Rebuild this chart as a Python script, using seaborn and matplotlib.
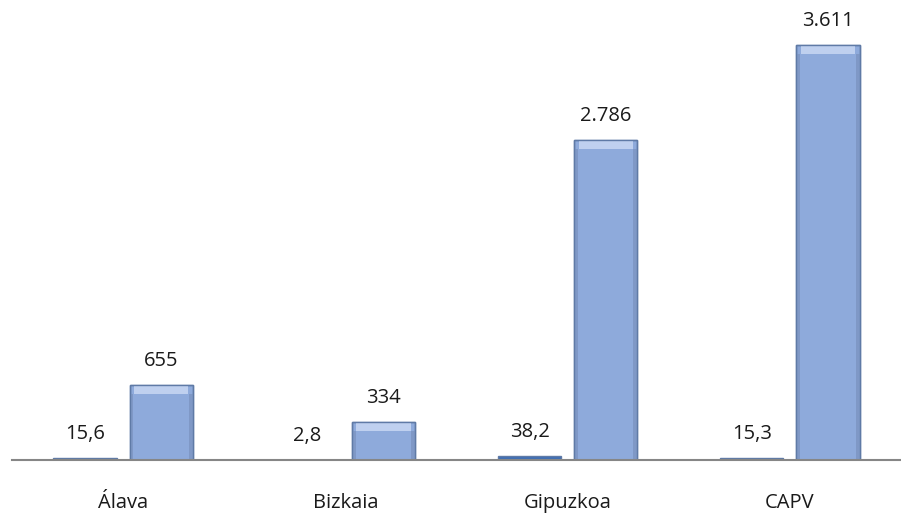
import pandas as pd
import seaborn as sns
import matplotlib.pyplot as plt

# Data
categorias = ['Álava', 'Bizkaia', 'Gipuzkoa', 'CAPV']
serie_a = [15.6, 2.8, 38.2, 15.3]
serie_b = [655, 334, 2786, 3611]
etiquetas_a = ['15,6', '2,8', '38,2', '15,3']
etiquetas_b = ['655', '334', '2.786', '3.611']

df = pd.DataFrame({
    'zona': categorias * 2,
    'valor': serie_a + serie_b,
    'serie': ['a'] * 4 + ['b'] * 4,
})

sns.set_style('white')
plt.rcParams['font.family'] = ['Open Sans', 'DejaVu Sans']

fig = plt.figure(figsize=(9.01, 5.18), dpi=100)
ax = fig.add_axes([12 / 901, 58 / 518, 889 / 901, 460 / 518])

ax = sns.barplot(data=df, x='zona', y='valor', hue='serie',
                 palette=['#3f6fb5', '#8eaadb'], saturation=1,
                 width=0.685, gap=0.17,
                 edgecolor='#5f7aa6', linewidth=1.0, legend=False, ax=ax)
ax.set_ylim(0, 4000)
ax.set_xlim(-0.5, 3.5)

# bevel look on the big bars: light band on top, darker sides
px = 4000 / 460  # data units per pixel
for p in ax.containers[1]:
    x0, w, h = p.get_x(), p.get_width(), p.get_height()
    band = min(9 * px, h * 0.3)
    ax.fill_between([x0 + w * 0.07, x0 + w * 0.93], h - band, h,
                    color='#bfd0ef', lw=0, zorder=3)
    ax.fill_between([x0, x0 + w * 0.06], 0, h - band, color='#7f98c6', lw=0, zorder=3)
    ax.fill_between([x0 + w * 0.94, x0 + w], 0, h - band, color='#7f98c6', lw=0, zorder=3)
    ax.bar(x0 + w / 2, h, width=w, fill=False, edgecolor='#5f7aa6', lw=1.0, zorder=4)

for cont, labs in zip(ax.containers[:2], [etiquetas_a, etiquetas_b]):
    ax.bar_label(cont, labels=labs, padding=10, fontsize=14.5, color='#1a1a1a')

ax.set_xlabel('')
ax.set_ylabel('')
ax.set_yticks([])
ax.tick_params(axis='x', length=0, pad=24, labelsize=14.5, colors='#1a1a1a')
for s in ['top', 'left', 'right']:
    ax.spines[s].set_visible(False)
ax.spines['bottom'].set_color('#868686')
ax.spines['bottom'].set_linewidth(1.5)
ax.spines['bottom'].set_zorder(5)

fig.savefig('out.png', dpi=100)
